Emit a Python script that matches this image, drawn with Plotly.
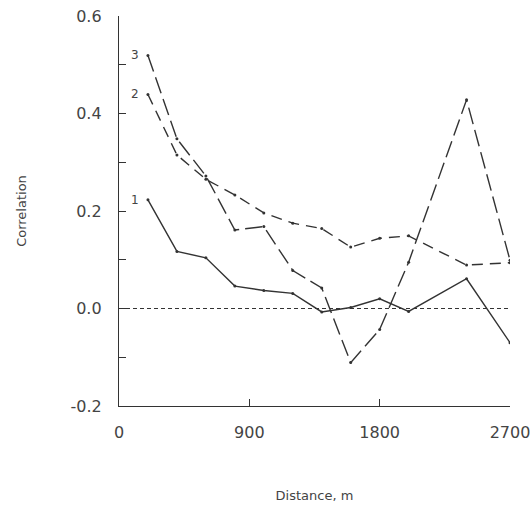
import plotly.graph_objects as go

distance = [200, 400, 600, 800, 1000, 1200, 1400, 1600, 1800, 2000, 2400, 2700]
series1 = [0.223, 0.117, 0.104, 0.046, 0.037, 0.031, -0.007, 0.002, 0.020, -0.006, 0.061, -0.070]
series2 = [0.439, 0.315, 0.265, 0.233, 0.196, 0.175, 0.164, 0.126, 0.144, 0.149, 0.089, 0.094]
series3 = [0.519, 0.348, 0.272, 0.161, 0.168, 0.078, 0.042, -0.111, -0.043, 0.095, 0.428, 0.099]
series_names = ["1", "2", "3"]
x_ticks = [900, 1800, 2700]
x_tick_labels = ["900", "1800", "2700"]
y_ticks = [-0.2, 0.0, 0.2, 0.4, 0.6]
y_tick_labels = ["-0.2", "0.0", "0.2", "0.4", "0.6"]
zero_x = [0, 2700]
zero_y = [0, 0]

line_color = "#333333"
text_color = "#444444"
font_family = "DejaVu Sans, Verdana, sans-serif"

fig = go.Figure()
fig.add_trace(go.Scatter(x=zero_x, y=zero_y, mode="lines",
                         line=dict(color=line_color, width=1.1, dash="4px,3px"),
                         showlegend=False, hoverinfo="skip"))
styles = [
    dict(color=line_color, width=1.4, dash="solid"),
    dict(color=line_color, width=1.4, dash="11px,7px"),
    dict(color=line_color, width=1.4, dash="17px,6px"),
]
for name, ys, st in zip(series_names, [series1, series2, series3], styles):
    fig.add_trace(go.Scatter(x=distance, y=ys, mode="lines+markers", name=name,
                             line=st, marker=dict(size=3, color=line_color),
                             showlegend=False))
    fig.add_annotation(x=distance[0], y=ys[0], text=name, showarrow=False,
                       xanchor="right", yanchor="middle", xshift=-7, yshift=0,
                       font=dict(family=font_family, size=12, color=text_color))

fig.update_layout(
    width=532, height=506,
    margin=dict(l=119, r=22, t=16, b=100),
    paper_bgcolor="white", plot_bgcolor="white",
    font=dict(family=font_family, size=16, color=text_color),
)
fig.update_xaxes(
    range=[0, 2700], tickvals=[0] + x_ticks, ticktext=["0"] + x_tick_labels,
    ticks="inside", ticklen=7, tickcolor=line_color, tickwidth=1.2,
    showline=True, linecolor=line_color, linewidth=1.3,
    showgrid=False, zeroline=False, ticklabelstandoff=12, automargin=False,
    ticklabeloverflow="allow",
    title=dict(text="Distance, m", font=dict(size=13), standoff=49),
)
fig.update_yaxes(
    range=[-0.2, 0.6], tickvals=y_ticks, ticktext=y_tick_labels,
    ticks="inside", ticklen=7, tickcolor=line_color, tickwidth=1.2,
    minor=dict(dtick=0.1, tick0=0, ticks="inside", ticklen=7, tickcolor=line_color, tickwidth=1.2),
    showline=True, linecolor=line_color, linewidth=1.3,
    showgrid=False, zeroline=False, ticklabelstandoff=13, automargin=False,
    ticklabeloverflow="allow",
    title=dict(text="Correlation", font=dict(size=13), standoff=40),
)

fig.write_html("out.html", config={"displayModeBar": False},
               post_script="document.body.style.margin='0';")
